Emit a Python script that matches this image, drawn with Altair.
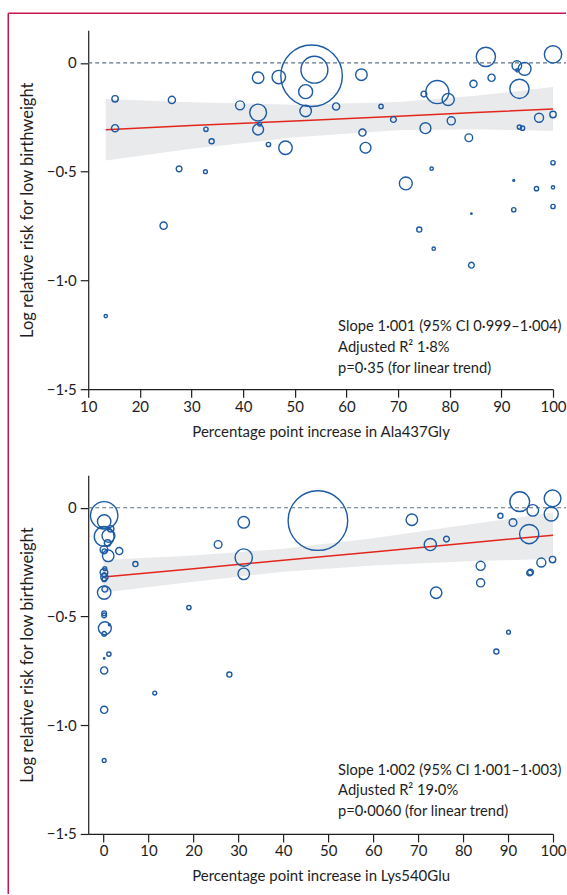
import altair as alt
import pandas as pd

# ---------------- data ----------------
# Panel A: Ala437Gly
a_x = [15.2, 15.2, 26.2, 32.8, 33.9, 27.6, 32.7, 24.6, 39.4, 42.9, 42.9, 42.9, 43.2, 44.9,
       46.9, 48.2, 53.25, 53.8, 52.1, 52.1, 62.9, 58.0, 66.7, 69.1, 63.1, 63.7, 75.3, 75.0,
       77.6, 79.7, 80.3, 83.7, 84.6, 88.1, 87.0, 93.0, 94.5, 93.1, 93.5, 97.3, 100, 93.5,
       94.1, 100, 71.5, 76.5, 100, 92.4, 96.8, 100, 100, 92.4, 84.2, 74.1, 76.9, 84.2, 13.4]
a_y = [-0.165, -0.30, -0.17, -0.305, -0.36, -0.487, -0.50, -0.748, -0.195, -0.068, -0.228,
       -0.306, -0.281, -0.375, -0.065, -0.39, -0.059, -0.031, -0.132, -0.221, -0.054, -0.2,
       -0.2, -0.26, -0.32, -0.39, -0.30, -0.143, -0.134, -0.168, -0.266, -0.344, -0.096,
       -0.068, 0.028, -0.012, -0.027, -0.034, -0.119, -0.252, -0.237, -0.295, -0.30, 0.039,
       -0.554, -0.486, -0.459, -0.54, -0.578, -0.572, -0.66, -0.675, -0.693, -0.766, -0.854,
       -0.93, -1.164]
a_w = [11, 14, 14, 5, 7, 9, 4, 14, 22, 36, 76, 32, 4, 5, 49, 49, 1024, 196, 53, 36, 36, 14,
       5, 9, 14, 32, 32, 9, 144, 40, 18, 16, 14, 14, 100, 25, 45, 3, 100, 22, 11, 5, 5, 81,
       45, 3, 5, 1, 5, 3, 5, 5, 0.5, 7, 3, 9, 3]

a_fit_x = [13.4, 30, 50, 70, 85, 100]
a_fit = [-0.307, -0.288, -0.267, -0.245, -0.228, -0.212]
a_hi = [-0.166, -0.181, -0.192, -0.180, -0.151, -0.111]
a_lo = [-0.448, -0.395, -0.342, -0.310, -0.305, -0.313]

# Panel B: Lys540Glu
b_x = [0.15, 0.15, 1.6, 0.15, 1.1, 0.9, 0.1, 0.2, 1.05, 3.5, 0.1, 0.15, 0.2, 0.15, 0.3,
       0.15, 0.15, 0.15, 0.3, 1.3, 0.15, 1.2, 0.15, 0.15, 7.1, 19.0, 28.0, 25.5, 31.2, 31.2,
       31.2, 47.7, 68.6, 72.7, 76.3, 74.0, 83.9, 83.9, 88.3, 91.1, 92.6, 95.5, 94.7, 99.9,
       99.6, 97.4, 99.9, 94.8, 95.0, 90.1, 87.4, 0.15, 11.4, 0.15, 0.3]
b_y = [-0.035, -0.063, -0.097, -0.132, -0.129, -0.162, -0.193, -0.2, -0.221, -0.199, -0.298,
       -0.31, -0.319, -0.33, -0.374, -0.39, -0.485, -0.495, -0.554, -0.538, -0.58, -0.673,
       -0.693, -0.748, -0.259, -0.459, -0.767, -0.169, -0.067, -0.229, -0.304, -0.059, -0.055,
       -0.169, -0.144, -0.391, -0.267, -0.345, -0.037, -0.068, 0.028, -0.012, -0.121, 0.043,
       -0.029, -0.252, -0.238, -0.30, -0.296, -0.572, -0.661, -0.929, -0.852, -1.162, -0.28]
b_w = [204, 49, 11, 106, 45, 11, 16, 6, 36, 14, 16, 6, 14, 5, 9, 49, 6, 6, 45, 1, 6, 5, 0.5,
       14, 7, 5, 7, 16, 36, 81, 36, 961, 36, 40, 9, 36, 22, 18, 7, 16, 106, 36, 100, 76, 53,
       22, 11, 9, 9, 4, 7, 14, 4, 4, 4]

b_fit_x = [0, 20, 40, 60, 80, 100]
b_fit = [-0.318, -0.280, -0.241, -0.203, -0.164, -0.126]
b_hi = [-0.240, -0.220, -0.188, -0.140, -0.081, -0.022]
b_lo = [-0.390, -0.340, -0.294, -0.266, -0.247, -0.235]

a_text = ["Slope 1·001 (95% CI 0·999–1·004)", "Adjusted R² 1·8%", "p=0·35 (for linear trend)"]
b_text = ["Slope 1·002 (95% CI 1·001–1·003)", "Adjusted R² 19·0%", "p=0·0060 (for linear trend)"]

y_ticks = [0, -0.5, -1.0, -1.5]
a_xticks = [10, 20, 30, 40, 50, 60, 70, 80, 90, 100]
b_xticks = [0, 10, 20, 30, 40, 50, 60, 70, 80, 90, 100]

# ---------------- styling ----------------
FONT = "Lato"
W, H = 465, 359
BLUE = "#1d5aa3"
RED = "#e3261c"
BAND = "#e9eaec"
DARK = "#1e1e1e"
FRAME = "#c8174a"

Y_LABEL = "datum.value == 0 ? '0' : '\u2212' + replace(format(abs(datum.value), '.1f'), '.', '\u00b7')"

one = pd.DataFrame({"k": [0]})


def panel(px, py, pw, fx, ff, fh, fl, xdom, xticks, xtitle, lines, text_y, frame=False):
    pts = pd.DataFrame({"x": px, "y": py, "w": pw})
    fit = pd.DataFrame({"x": fx, "fit": ff, "hi": fh, "lo": fl})
    xs = alt.Scale(domain=xdom, nice=False, zero=False)
    ys = alt.Scale(domain=[-1.5, 0.15], nice=False, zero=False)
    xax = alt.Axis(values=xticks, title=xtitle, grid=False, tickSize=8, labelPadding=2,
                   titlePadding=10, domainColor=DARK, tickColor=DARK, domainWidth=1.2,
                   tickWidth=1.2, labelFontSize=15, titleFontSize=15, labelFont=FONT,
                   titleFont=FONT, titleFontWeight="normal", labelColor=DARK, titleColor=DARK,
                   labelFlush=False, labelOverlap=False)
    yax = alt.Axis(values=y_ticks, title="Log relative risk for low birthweight", grid=False,
                   tickSize=8, labelPadding=4, titlePadding=11, domainColor=DARK,
                   tickColor=DARK, domainWidth=1.2, tickWidth=1.2, labelFontSize=15,
                   titleFontSize=16.5, labelFont=FONT, titleFont=FONT, titleFontWeight="normal",
                   labelColor=DARK, titleColor=DARK, labelExpr=Y_LABEL, labelFlush=False)

    band = alt.Chart(fit).mark_area(color=BAND, opacity=1).encode(
        x=alt.X("x:Q", scale=xs, axis=xax),
        y=alt.Y("lo:Q", scale=ys, axis=yax),
        y2="hi:Q",
    )
    zero = alt.Chart(one).mark_rule(color="#5d7385", strokeDash=[4, 3], strokeWidth=1.2).encode(
        x=alt.value(0), x2=alt.value(W + 13), y=alt.datum(0)
    )
    line = alt.Chart(fit).mark_line(color=RED, strokeWidth=1.5).encode(x="x:Q", y="fit:Q")
    circles = alt.Chart(pts).mark_point(shape="circle", filled=False, color=BLUE,
                                        strokeWidth=1.4, opacity=1).encode(
        x="x:Q", y="y:Q",
        size=alt.Size("w:Q", scale=alt.Scale(domain=[0, 1000], range=[0, 3700], zero=True),
                      legend=None),
    )
    txt = alt.Chart(one).mark_text(align="left", baseline="middle", lineHeight=21,
                                   fontSize=14.7, font=FONT, color=DARK).encode(
        x=alt.value(250), y=alt.value(text_y), text=alt.value(lines)
    )
    layers = [band, zero, line, circles, txt]
    if frame:
        layers.append(alt.Chart(one).mark_rule(color=FRAME, strokeWidth=1.5).encode(
            x=alt.value(-80), y=alt.value(-17), y2=alt.value(864)))
        layers.append(alt.Chart(one).mark_rule(color=FRAME, strokeWidth=1.5).encode(
            x=alt.value(-80), x2=alt.value(478), y=alt.value(-17)))
    return alt.layer(*layers).properties(width=W, height=H)


top = panel(a_x, a_y, a_w, a_fit_x, a_fit, a_hi, a_lo, [10, 100], a_xticks,
            "Percentage point increase in Ala437Gly", a_text, 297, frame=True)
bottom = panel(b_x, b_y, b_w, b_fit_x, b_fit, b_hi, b_lo, [-3.4, 100], b_xticks,
               "Percentage point increase in Lys540Glu", b_text, 295.5)

chart = alt.vconcat(top, bottom, spacing=86, bounds="flush").properties(
    padding={"left": 7.25, "top": 12.15, "right": 0, "bottom": 0},
    background="white",
).configure_view(strokeWidth=0)

chart.save("out.html", embed_options={"renderer": "svg", "actions": False})
